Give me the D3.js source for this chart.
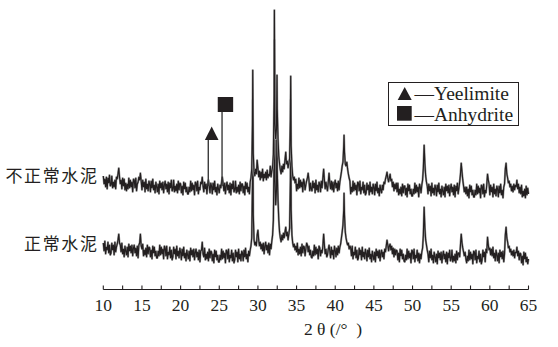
<!DOCTYPE html>
<html><head><meta charset="utf-8">
<script src="https://cdn.jsdelivr.net/npm/d3@7"></script>
<style>body{margin:0;background:#fff}svg{display:block}</style>
</head><body><svg id="c" width="558" height="347"></svg>
<script>
// ---- data (2θ scan from 10° to 65°, 0.1° step; intensities in a.u.) ----
const scanStart = 10, scanStep = 0.1;
const normalScan = [
47,39,49,36,43,40,48,37,45,35,
37,47,40,45,35,48,38,43,46,50,
56,47,45,38,47,36,41,33,44,39,
35,43,33,46,39,44,37,45,34,42,
45,37,42,34,44,32,45,47,56,44,
41,46,34,40,35,42,33,45,36,43,
42,33,40,31,44,37,43,34,39,32,
32,39,34,45,35,43,36,41,31,44,
42,34,44,31,38,35,43,32,40,30,
33,43,36,41,31,44,34,39,32,42,
38,30,41,34,43,32,37,29,40,35,
31,39,29,42,35,40,33,41,30,38,
41,33,38,30,40,28,39,40,48,36,
33,42,30,36,31,38,29,41,32,39,
38,29,36,27,40,33,39,30,35,28,
28,35,30,41,31,39,32,37,27,40,
39,31,41,28,35,32,40,29,37,27,
30,40,33,38,28,41,31,36,29,39,
37,29,40,33,42,31,36,28,39,34,
40,44,52,110,75,50,45,48,44,55,
60,50,44,48,41,46,39,47,36,44,
48,40,45,37,47,35,46,41,49,55,
70,140,110,85,100,120,90,70,58,52,
48,55,50,57,52,58,63,54,58,50,
56,62,110,80,55,47,43,46,40,44,
38,47,35,41,36,43,34,46,37,44,
43,34,41,47,45,38,44,35,40,33,
32,39,34,45,35,43,36,41,31,44,
42,34,40,37,44,56,45,36,41,33,
35,41,45,39,32,43,35,40,31,44,
40,33,42,35,44,37,43,46,52,58,
65,80,75,58,52,48,45,47,41,44,
42,34,44,31,38,35,43,32,40,30,
32,42,35,40,30,43,33,38,31,41,
37,29,40,33,42,31,36,28,39,34,
30,38,28,41,34,39,32,40,29,37,
40,33,38,31,41,38,44,50,45,39,
44,46,40,44,36,42,33,41,35,40,
39,30,37,28,41,34,40,31,36,29,
28,35,30,41,31,39,32,37,27,40,
39,31,41,28,35,32,40,29,37,27,
36,31,38,42,55,83,62,50,45,40,
36,28,39,32,41,30,35,27,38,33,
28,36,26,39,32,37,30,38,27,35,
39,31,36,28,38,26,37,32,40,29,
31,40,28,34,29,36,27,39,30,37,
37,33,45,56,47,42,38,34,38,31,
27,34,29,40,30,38,31,36,26,39,
38,30,40,27,34,31,39,28,36,26,
30,40,33,38,28,41,37,53,45,40,
42,35,41,34,43,32,37,29,40,35,
29,37,27,40,33,38,31,39,28,36,
55,63,52,48,42,44,38,41,35,39,
34,40,32,38,37,43,34,39,30,37,
36,27,34,25,38,31,37,28,33,26,
31];
const normalPeaks = [[29.33,190],[32.13,250],[32.47,180],[34.24,190],[41.14,97]];

const abnormalScan = [
48,40,45,37,47,35,46,41,49,38,
39,48,36,42,37,44,35,47,45,50,
56,47,40,44,35,46,38,45,34,41,
33,40,35,46,36,44,37,42,32,45,
44,36,46,33,40,42,47,44,51,43,
34,44,37,42,32,45,35,40,33,43,
40,32,43,36,45,34,39,31,42,37,
32,40,30,43,36,41,34,42,31,39,
43,35,40,32,42,30,41,36,44,33,
35,44,32,38,33,40,31,43,34,41,
40,31,38,29,42,35,41,32,37,30,
30,37,32,43,33,41,34,39,29,42,
41,33,43,30,37,34,42,40,47,38,
32,42,35,40,30,39,44,38,31,41,
38,30,41,34,43,32,37,29,40,35,
31,39,36,42,47,40,33,41,30,38,
42,34,39,31,41,29,40,35,43,32,
34,43,31,37,32,39,30,42,33,40,
40,31,38,29,42,35,41,32,37,30,
42,46,55,100,70,52,48,55,50,64,
56,47,53,44,52,46,55,43,50,46,
52,44,54,46,50,48,58,47,53,57,
70,130,100,85,95,115,85,68,60,54,
50,58,52,60,55,64,72,60,63,56,
60,66,105,78,58,48,44,47,41,45,
33,40,35,46,36,44,37,42,32,45,
42,34,39,43,46,51,44,33,41,35,
33,43,36,41,31,44,34,39,32,42,
40,32,43,36,46,55,44,35,42,37,
33,42,51,41,35,43,34,42,32,40,
44,36,41,33,43,34,42,47,52,58,
62,78,72,60,58,62,55,50,46,43,
30,37,32,43,33,41,34,39,29,42,
41,33,43,30,37,34,42,31,39,29,
31,41,34,39,29,42,32,37,30,40,
37,29,40,33,42,31,36,28,39,34,
31,39,34,42,40,45,48,52,46,42,
46,50,43,45,37,42,33,40,35,41,
32,41,29,35,30,37,28,40,31,38,
38,29,36,27,40,33,39,30,35,28,
28,35,30,41,31,39,32,37,27,40,
37,31,39,44,56,79,60,48,42,38,
30,40,33,38,28,41,31,36,29,39,
36,28,39,32,41,30,35,27,38,33,
29,37,27,40,33,38,31,39,28,36,
40,32,37,29,39,27,38,33,41,30,
36,42,50,61,52,44,38,32,37,30,
37,28,35,26,39,32,38,29,34,27,
27,34,29,40,30,38,31,36,26,39,
38,30,40,27,34,31,39,50,44,40,
29,39,32,37,27,40,30,35,28,38,
35,27,38,31,40,29,34,26,37,40,
55,61,50,46,41,43,37,40,33,38,
32,40,34,39,37,44,35,40,31,37,
30,39,27,33,28,35,26,38,29,36,
30];
const abnormalPeaks = [[29.33,154],[32.13,214],[32.47,149],[34.24,148],[41.14,89]];

const seriesNames = ["不正常水泥", "正常水泥"];
const phaseNames = ["Yeelimite", "Anhydrite"];
const phaseTheta = [23.58, 25.36];
const xTicks = [10,15,20,25,30,35,40,45,50,55,60,65];
const xTitle = "2\u00a0θ\u00a0(/°\u00a0\u00a0)";

// ---- drawing ----
const serifFont = "'Times New Roman', 'Liberation Serif', Tinos, 'DejaVu Serif', serif";
const cjkFont = "'Noto Sans CJK SC', 'Noto Sans CJK JP', sans-serif";
const svg = d3.select("#c");
const x = d3.scaleLinear().domain([10, 65]).range([103.3, 528.5]);
const y = d3.scaleLinear().domain([0, 280]).range([290, 10]);
const upperOffset = 66;

function toPoints(scan, peaks) {
  const pts = scan.map((v, i) => [Math.round((scanStart + i * scanStep) * 10) / 10, v]).concat(peaks);
  return pts.sort((a, b) => a[0] - b[0]);
}
const series = [
  {name: seriesNames[0], pts: toPoints(abnormalScan, abnormalPeaks), off: upperOffset},
  {name: seriesNames[1], pts: toPoints(normalScan, normalPeaks), off: 0}
];

const ink = "#231f20";
[series[1], series[0]].forEach(s => {
  const line = d3.line().x(d => x(d[0])).y(d => y(d[1] + s.off));
  svg.append("path").attr("d", line(s.pts)).attr("fill", "none")
    .attr("stroke", "#999").attr("stroke-width", 2.1).attr("stroke-linejoin", "round");
  svg.append("path").attr("d", line(s.pts)).attr("fill", "none")
    .attr("stroke", ink).attr("stroke-width", 1.15).attr("stroke-linejoin", "miter").attr("stroke-miterlimit", 2.5);
});

// series labels
const labelY = [182, 250];
series.forEach((s, i) => {
  svg.append("text").attr("x", 98.5).attr("y", labelY[i]).attr("text-anchor", "end")
    .style("font-family", cjkFont).attr("font-size", 17).attr("letter-spacing", 1.6)
    .attr("fill", ink).text(s.name);
});

// phase markers over the upper pattern
const markBottom = [y(84 + upperOffset), y(112 + upperOffset)];
const lineBottom = y(38 + upperOffset);
phaseTheta.forEach((t, i) => {
  const px = x(t);
  svg.append("line").attr("x1", px).attr("x2", px).attr("y1", markBottom[i]).attr("y2", lineBottom)
    .attr("stroke", "#3a3a3a").attr("stroke-width", 1.4);
  const cx = px + 3.4;
  if (i === 0) {
    svg.append("path").attr("d", `M${cx},${markBottom[i]-13.5}L${cx+6.8},${markBottom[i]}L${cx-6.8},${markBottom[i]}Z`).attr("fill", ink);
  } else {
    svg.append("rect").attr("x", cx - 7.7).attr("y", markBottom[i] - 15).attr("width", 15.4).attr("height", 15).attr("fill", ink);
  }
});

// legend
svg.append("rect").attr("x", 388.5).attr("y", 82.5).attr("width", 130).attr("height", 43)
  .attr("fill", "#fff").attr("stroke", ink).attr("stroke-width", 1);
phaseNames.forEach((n, i) => {
  const base = 100 + i * 20.5;
  if (i === 0) {
    svg.append("path").attr("d", `M404.7,${base-13}L411.7,${base}L397.7,${base}Z`).attr("fill", ink);
  } else {
    svg.append("rect").attr("x", 397).attr("y", base - 14.5).attr("width", 14.7).attr("height", 14.7).attr("fill", ink);
  }
  svg.append("text").attr("x", 414.5).attr("y", base).style("font-family", serifFont)
    .attr("font-size", 19.5).attr("fill", ink).text("—" + n);
});

// x axis
const axisY = 289.5;
svg.append("line").attr("x1", x(10)).attr("x2", x(65)).attr("y1", axisY).attr("y2", axisY)
  .attr("stroke", ink).attr("stroke-width", 1.2);
const tickVals = d3.range(10, 65.01, 2.5);
svg.selectAll(".tk").data(tickVals).enter().append("line")
  .attr("x1", d => x(d)).attr("x2", d => x(d)).attr("y1", axisY).attr("y2", axisY - 4)
  .attr("stroke", ink).attr("stroke-width", 1.1);
svg.selectAll(".tl").data(xTicks).enter().append("text").style("font-family", serifFont)
  .attr("x", d => x(d)).attr("y", 311).attr("text-anchor", "middle")
  .attr("font-size", 17.5).attr("fill", ink).text(d => d);
svg.append("text").style("font-family", serifFont).attr("x", 333).attr("y", 335).attr("text-anchor", "middle")
  .attr("font-size", 17.5).attr("fill", ink).text(xTitle);
</script></body></html>
